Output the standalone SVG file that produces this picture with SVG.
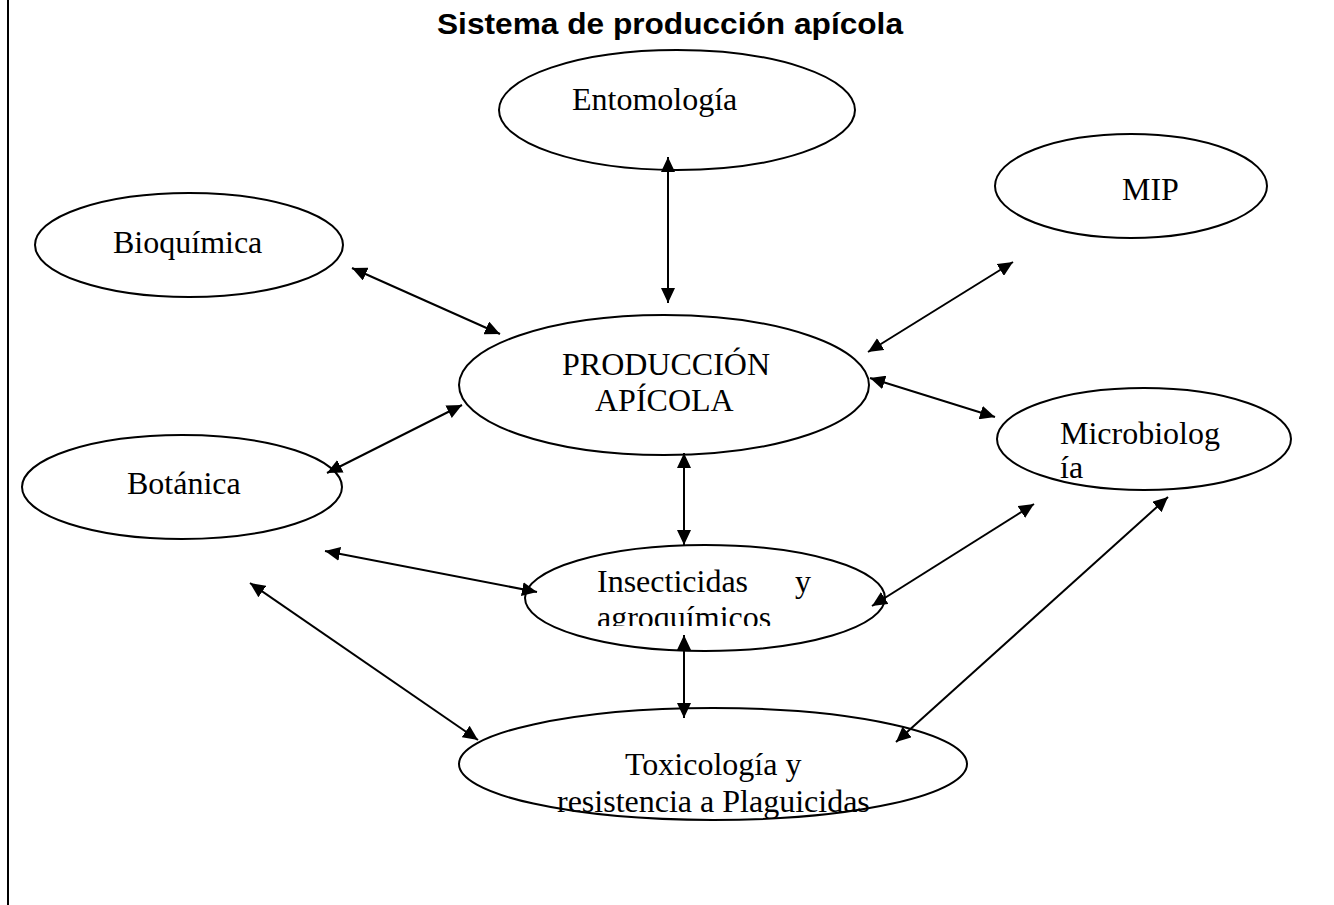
<svg xmlns="http://www.w3.org/2000/svg" width="1334" height="905" viewBox="0 0 1334 905">
<style>
  .node ellipse { fill: #fff; stroke: #000; stroke-width: 2; }
  .lbl { font-family: "Liberation Serif", "Times New Roman", serif; font-size: 32px; fill: #000; }
  .title { font-family: "Liberation Sans", Arial, sans-serif; font-weight: bold; font-size: 29px; fill: #000; }
  .conn line { stroke: #000; stroke-width: 2; }
</style>
<defs>
  <marker id="ah" viewBox="0 0 15 14" refX="15" refY="7" markerWidth="15" markerHeight="14" markerUnits="userSpaceOnUse" orient="auto-start-reverse">
    <path d="M0,0 L15,7 L0,14 Z" fill="#000"/>
  </marker>
  <clipPath id="clipIns"><rect x="520" y="540" width="370" height="86"/></clipPath>
</defs>
<rect width="1334" height="905" fill="#fff"/>
<line x1="8" y1="0" x2="8" y2="905" stroke="#000" stroke-width="2"/>
<text class="title" x="437" y="34" textLength="466" lengthAdjust="spacingAndGlyphs">Sistema de producción apícola</text>

<g id="entomologia" class="node">
  <ellipse cx="677" cy="110" rx="178" ry="60"/>
  <text class="lbl" x="572" y="110">Entomología</text>
</g>
<g id="mip" class="node">
  <ellipse cx="1131" cy="186" rx="136" ry="52"/>
  <text class="lbl" x="1122" y="200">MIP</text>
</g>
<g id="bioquimica" class="node">
  <ellipse cx="189" cy="245" rx="154" ry="52"/>
  <text class="lbl" x="113" y="253">Bioquímica</text>
</g>
<g id="produccion" class="node">
  <ellipse cx="664" cy="385" rx="205" ry="70"/>
  <text class="lbl" x="562" y="375">PRODUCCIÓN</text>
  <text class="lbl" x="595" y="411">APÍCOLA</text>
</g>
<g id="microbiologia" class="node">
  <ellipse cx="1144" cy="439" rx="147" ry="51"/>
  <text class="lbl" x="1060" y="444">Microbiolog</text>
  <text class="lbl" x="1060" y="478">ía</text>
</g>
<g id="botanica" class="node">
  <ellipse cx="182" cy="487" rx="160" ry="52"/>
  <text class="lbl" x="127" y="494">Botánica</text>
</g>
<g id="insecticidas" class="node">
  <ellipse cx="705" cy="598" rx="180" ry="53"/>
  <text class="lbl" x="597" y="592">Insecticidas</text>
  <text class="lbl" x="795" y="592">y</text>
  <text class="lbl" x="597" y="628" clip-path="url(#clipIns)">agroquímicos</text>
</g>
<g id="toxicologia" class="node">
  <ellipse cx="713" cy="764" rx="254" ry="56"/>
  <text class="lbl" x="625" y="775">Toxicología y</text>
  <text class="lbl" x="557" y="812">resistencia a Plaguicidas</text>
</g>

<g id="connectors" class="conn">
  <line x1="668" y1="157" x2="668" y2="303" marker-start="url(#ah)" marker-end="url(#ah)"/>
  <line x1="352" y1="268" x2="500" y2="334" marker-start="url(#ah)" marker-end="url(#ah)"/>
  <line x1="1013" y1="262" x2="868" y2="352" marker-start="url(#ah)" marker-end="url(#ah)"/>
  <line x1="870" y1="378" x2="995" y2="417" marker-start="url(#ah)" marker-end="url(#ah)"/>
  <line x1="327" y1="473" x2="462" y2="405" marker-start="url(#ah)" marker-end="url(#ah)"/>
  <line x1="684" y1="453" x2="684" y2="545" marker-start="url(#ah)" marker-end="url(#ah)"/>
  <line x1="325" y1="551" x2="537" y2="592" marker-start="url(#ah)" marker-end="url(#ah)"/>
  <line x1="872" y1="606" x2="1034" y2="504" marker-start="url(#ah)" marker-end="url(#ah)"/>
  <line x1="250" y1="583" x2="478" y2="740" marker-start="url(#ah)" marker-end="url(#ah)"/>
  <line x1="684" y1="635" x2="684" y2="718" marker-start="url(#ah)" marker-end="url(#ah)"/>
  <line x1="1168" y1="497" x2="896" y2="742" marker-start="url(#ah)" marker-end="url(#ah)"/>
</g>
</svg>
